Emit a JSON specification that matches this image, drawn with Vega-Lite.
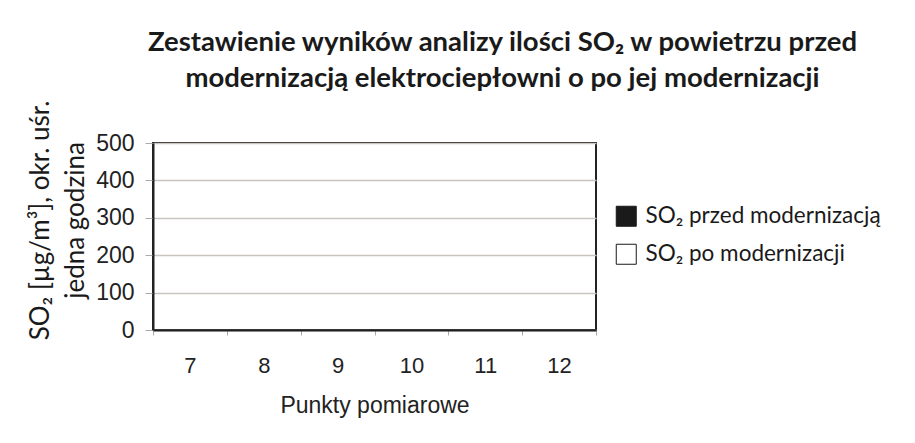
{
  "$schema": "https://vega.github.io/schema/vega-lite/v6.json",
  "autosize": "none",
  "width": 443,
  "height": 187,
  "padding": {"left": 153, "top": 143, "right": 319, "bottom": 113},
  "background": "white",
  "title": {
    "text": ["Zestawienie wyników analizy ilości SO₂ w powietrzu przed", "modernizacją elektrociepłowni o po jej modernizacji"],
    "font": "Lato",
    "fontSize": 27.5,
    "fontWeight": "bold",
    "color": "#1a1a1a",
    "lineHeight": 36,
    "anchor": "middle",
    "frame": "group",
    "dx": 128,
    "offset": 8
  },
  "data": {
    "values": [
      {"punkt": "7", "seria": "SO₂ przed modernizacją", "so2": 0},
      {"punkt": "7", "seria": "SO₂ po modernizacji", "so2": 0},
      {"punkt": "8", "seria": "SO₂ przed modernizacją", "so2": 0},
      {"punkt": "8", "seria": "SO₂ po modernizacji", "so2": 0},
      {"punkt": "9", "seria": "SO₂ przed modernizacją", "so2": 0},
      {"punkt": "9", "seria": "SO₂ po modernizacji", "so2": 0},
      {"punkt": "10", "seria": "SO₂ przed modernizacją", "so2": 0},
      {"punkt": "10", "seria": "SO₂ po modernizacji", "so2": 0},
      {"punkt": "11", "seria": "SO₂ przed modernizacją", "so2": 0},
      {"punkt": "11", "seria": "SO₂ po modernizacji", "so2": 0},
      {"punkt": "12", "seria": "SO₂ przed modernizacją", "so2": 0},
      {"punkt": "12", "seria": "SO₂ po modernizacji", "so2": 0}
    ]
  },
  "mark": {"type": "bar", "stroke": null},
  "encoding": {
    "x": {
      "field": "punkt",
      "type": "nominal",
      "sort": ["7", "8", "9", "10", "11", "12"],
      "scale": {"domain": ["7", "8", "9", "10", "11", "12"], "paddingInner": 0, "paddingOuter": 0},
      "axis": {
        "title": "Punkty pomiarowe",
        "labelAngle": 0,
        "tickBand": "extent",
        "labelFont": "Liberation Sans",
        "labelFontSize": 22,
        "labelColor": "#222",
        "labelPadding": 20,
        "tickSize": 5,
        "tickColor": "#aaa",
        "domainColor": "#222",
        "domainWidth": 2,
        "titleFont": "Liberation Sans",
        "titleFontSize": 23,
        "titleFontWeight": "normal",
        "titleColor": "#222",
        "titlePadding": 18
      }
    },
    "xOffset": {"field": "seria", "type": "nominal", "sort": ["SO₂ przed modernizacją", "SO₂ po modernizacji"]},
    "y": {
      "field": "so2",
      "type": "quantitative",
      "scale": {"domain": [0, 500], "nice": false},
      "axis": {
        "title": ["SO₂ [µg/m³], okr. uśr.", "jedna godzina"],
        "values": [0, 100, 200, 300, 400, 500],
        "labelFont": "Liberation Sans",
        "labelFontSize": 23,
        "labelColor": "#222",
        "labelPadding": 11,
        "tickSize": 8,
        "tickColor": "#aaa",
        "domainColor": "#222",
        "domainWidth": 2,
        "gridColor": "#c8c4c0",
        "gridWidth": 1.5,
        "titleFont": "Lato",
        "titleFontSize": 26,
        "titleFontWeight": "normal",
        "titleColor": "#1a1a1a",
        "titleLineHeight": 35,
        "titleAngle": -90,
        "titleAlign": "center",
        "titleBaseline": "middle",
        "titleX": -113,
        "titleY": 77
      }
    },
    "color": {
      "field": "seria",
      "type": "nominal",
      "scale": {"domain": ["SO₂ przed modernizacją", "SO₂ po modernizacji"], "range": ["#1a1a1a", "#ffffff"]},
      "legend": {
        "title": null,
        "orient": "none",
        "legendX": 462,
        "legendY": 62,
        "symbolType": "square",
        "symbolSize": 400,
        "symbolStrokeColor": "#1a1a1a",
        "symbolStrokeWidth": 1,
        "labelFont": "Lato",
        "labelFontSize": 22.5,
        "labelColor": "#1a1a1a",
        "labelOffset": 8,
        "rowPadding": 13,
        "labelLimit": 400
      }
    }
  },
  "config": {
    "view": {"stroke": "#222", "strokeWidth": 2}
  }
}
